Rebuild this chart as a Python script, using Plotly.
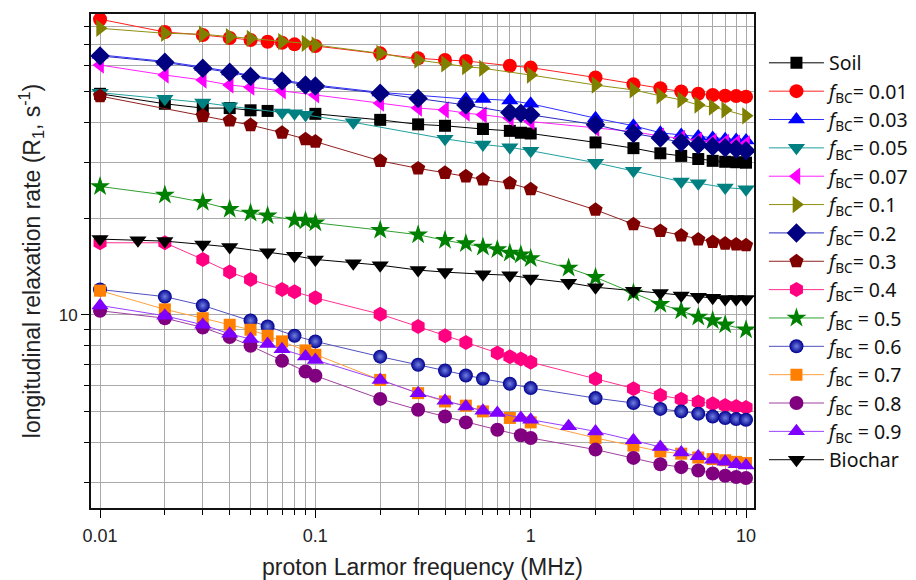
import plotly.graph_objects as go

# ---- data (MHz, s^-1) ----
soil_x = [0.01, 0.02, 0.03, 0.04, 0.05, 0.06, 0.1, 0.2, 0.3, 0.4, 0.6, 0.8, 0.9, 1, 2, 3, 4, 5, 6, 7, 8, 9, 10]
soil_y = [49.1, 45.7, 44.3, 44.3, 43.6, 43.4, 42.5, 40.7, 39.4, 39.0, 38.1, 37.6, 37.1, 36.9, 34.6, 33.2, 32.0, 31.4, 30.7, 30.3, 30.1, 30.0, 29.9]

f001_x = [0.01, 0.02, 0.03, 0.04, 0.05, 0.06, 0.07, 0.08, 0.1, 0.2, 0.3, 0.4, 0.5, 0.8, 1, 2, 3, 4, 5, 6, 7, 8, 9, 10]
f001_y = [84.0, 76.6, 75.0, 73.4, 72.3, 71.4, 70.9, 70.1, 69.3, 65.7, 63.4, 62.6, 62.2, 60.1, 59.3, 55.2, 52.6, 51.1, 49.9, 49.1, 48.7, 48.4, 48.3, 48.1]

f003_x = [0.01, 0.02, 0.03, 0.04, 0.05, 0.07, 0.09, 0.1, 0.2, 0.5, 0.6, 0.8, 1, 2, 3, 4, 5, 6, 7, 8, 9, 10]
f003_y = [65.0, 62.0, 59.5, 57.7, 56.0, 54.2, 52.7, 52.3, 49.6, 47.3, 47.3, 46.8, 45.7, 41.2, 39.0, 37.1, 36.5, 36.1, 35.7, 35.4, 35.2, 35.1]

f005_x = [0.01, 0.02, 0.03, 0.04, 0.07, 0.08, 0.09, 0.15, 0.4, 0.6, 0.8, 1, 2, 3, 5, 6, 8, 10]
f005_y = [49.5, 47.4, 46.1, 44.9, 42.9, 42.7, 42.2, 40.0, 35.5, 34.1, 33.4, 32.6, 29.9, 28.2, 26.1, 25.8, 25.0, 24.7]

f007_x = [0.01, 0.02, 0.03, 0.04, 0.05, 0.07, 0.1, 0.2, 0.3, 0.4, 0.5, 0.6, 0.8, 1, 2, 3, 4, 5, 6, 7, 8, 9, 10]
f007_y = [60.4, 56.2, 54.2, 52.3, 51.5, 50.2, 48.7, 45.9, 44.3, 43.7, 42.7, 42.2, 41.2, 40.2, 38.3, 37.4, 36.2, 35.6, 35.1, 34.8, 34.6, 34.4, 34.2]

f01_x = [0.01, 0.02, 0.03, 0.04, 0.05, 0.07, 0.09, 0.1, 0.2, 0.3, 0.4, 0.5, 0.6, 1, 2, 3, 4, 5, 6, 7, 8, 10]
f01_y = [78.7, 75.9, 75.4, 74.1, 73.2, 71.5, 70.6, 69.8, 65.7, 62.6, 60.9, 59.7, 59.0, 56.2, 52.3, 50.5, 48.4, 47.0, 45.3, 44.6, 43.7, 41.9]

f02_x = [0.01, 0.02, 0.03, 0.04, 0.05, 0.07, 0.09, 0.1, 0.2, 0.3, 0.5, 0.8, 0.9, 1, 2, 3, 4, 5, 6, 7, 8, 9, 10]
f02_y = [64.5, 61.6, 59.0, 57.3, 55.6, 53.8, 52.3, 51.9, 49.3, 47.5, 45.3, 42.9, 42.7, 42.2, 39.3, 36.9, 35.7, 34.6, 34.0, 33.6, 33.3, 33.0, 32.6]

f03_x = [0.01, 0.03, 0.04, 0.05, 0.07, 0.09, 0.1, 0.2, 0.3, 0.4, 0.5, 0.6, 0.8, 1, 2, 3, 4, 5, 6, 7, 8, 9, 10]
f03_y = [48.3, 41.9, 40.5, 39.2, 37.1, 35.4, 34.8, 30.3, 28.7, 27.8, 27.1, 26.5, 25.8, 24.7, 21.3, 19.2, 18.3, 17.7, 17.2, 16.9, 16.7, 16.6, 16.5]

f04_x = [0.01, 0.02, 0.03, 0.04, 0.05, 0.07, 0.08, 0.1, 0.2, 0.3, 0.4, 0.5, 0.7, 0.8, 0.9, 1, 2, 3, 4, 5, 6, 7, 8, 9, 10]
f04_y = [16.8, 16.8, 14.9, 13.6, 12.9, 12.0, 11.8, 11.3, 10.05, 9.2, 8.6, 8.2, 7.6, 7.4, 7.27, 7.11, 6.31, 5.87, 5.60, 5.45, 5.34, 5.27, 5.21, 5.17, 5.13]

f05_x = [0.01, 0.02, 0.03, 0.04, 0.05, 0.06, 0.08, 0.09, 0.1, 0.2, 0.3, 0.4, 0.5, 0.6, 0.7, 0.8, 0.9, 1, 1.5, 2, 3, 4, 5, 6, 7, 8, 10]
f05_y = [25.2, 23.7, 22.5, 21.4, 20.8, 20.4, 19.8, 19.7, 19.4, 18.4, 17.8, 17.1, 16.7, 16.3, 16.0, 15.6, 15.4, 15.0, 14.0, 13.1, 11.7, 10.8, 10.3, 9.84, 9.60, 9.31, 8.98]

f06_x = [0.01, 0.02, 0.03, 0.05, 0.06, 0.08, 0.1, 0.2, 0.3, 0.4, 0.5, 0.6, 0.8, 1, 2, 3, 4, 5, 6, 7, 8, 9, 10]
f06_y = [12.0, 11.4, 10.7, 9.6, 9.2, 8.6, 8.26, 7.4, 6.98, 6.70, 6.46, 6.31, 6.09, 5.90, 5.49, 5.30, 5.08, 4.99, 4.91, 4.81, 4.76, 4.72, 4.70]

f07_x = [0.01, 0.02, 0.03, 0.04, 0.05, 0.06, 0.07, 0.09, 0.1, 0.2, 0.3, 0.4, 0.5, 0.6, 0.8, 1, 2, 3, 4, 5, 6, 7, 8, 9, 10]
f07_y = [11.9, 10.4, 9.76, 9.31, 8.98, 8.6, 8.26, 7.74, 7.50, 6.26, 5.69, 5.36, 5.20, 4.99, 4.76, 4.61, 4.12, 3.90, 3.74, 3.68, 3.58, 3.54, 3.51, 3.47, 3.44]

f08_x = [0.01, 0.02, 0.03, 0.04, 0.05, 0.07, 0.09, 0.1, 0.2, 0.3, 0.4, 0.5, 0.7, 0.9, 1, 2, 3, 4, 5, 6, 7, 8, 9, 10]
f08_y = [10.3, 9.76, 9.13, 8.52, 8.00, 7.18, 6.65, 6.45, 5.46, 5.05, 4.81, 4.61, 4.37, 4.20, 4.12, 3.79, 3.57, 3.41, 3.34, 3.26, 3.19, 3.14, 3.11, 3.09]

f09_x = [0.01, 0.02, 0.03, 0.04, 0.05, 0.06, 0.07, 0.09, 0.1, 0.2, 0.3, 0.4, 0.5, 0.6, 0.7, 0.9, 1, 1.5, 2, 3, 4, 5, 6, 7, 8, 9, 10]
f09_y = [10.7, 9.93, 9.31, 8.72, 8.40, 8.10, 7.81, 7.41, 7.23, 6.26, 5.69, 5.39, 5.17, 5.01, 4.93, 4.76, 4.70, 4.48, 4.32, 4.05, 3.86, 3.71, 3.61, 3.52, 3.47, 3.41, 3.38]

bio_x = [0.01, 0.015, 0.02, 0.03, 0.04, 0.06, 0.08, 0.1, 0.15, 0.2, 0.3, 0.4, 0.6, 0.8, 1, 1.5, 2, 3, 4, 5, 6, 7, 8, 9, 10]
bio_y = [17.25, 17.1, 17.0, 16.6, 16.3, 15.7, 15.3, 14.9, 14.5, 14.3, 13.8, 13.6, 13.4, 13.3, 13.0, 12.6, 12.2, 11.9, 11.7, 11.5, 11.4, 11.3, 11.2, 11.2, 11.2]

names = ["Soil",
         "<i>f</i><sub>BC</sub>= 0.01", "<i>f</i><sub>BC</sub>= 0.03", "<i>f</i><sub>BC</sub>= 0.05",
         "<i>f</i><sub>BC</sub>= 0.07", "<i>f</i><sub>BC</sub>= 0.1", "<i>f</i><sub>BC</sub>= 0.2",
         "<i>f</i><sub>BC</sub>= 0.3", "<i>f</i><sub>BC</sub>= 0.4", "<i>f</i><sub>BC</sub> = 0.5",
         "<i>f</i><sub>BC</sub> = 0.6", "<i>f</i><sub>BC</sub> = 0.7", "<i>f</i><sub>BC</sub> = 0.8",
         "<i>f</i><sub>BC</sub> = 0.9", "Biochar"]

series = [
    (soil_x, soil_y, "square", "#000000", "#000000", 12),
    (f001_x, f001_y, "circle", "#ff0000", "#ff2020", 14),
    (f003_x, f003_y, "triangle-up", "#0000ff", "#3030ff", 15),
    (f005_x, f005_y, "triangle-down", "#008080", "#20a0a0", 15),
    (f007_x, f007_y, "triangle-left", "#ff00ff", "#ff20ff", 15),
    (f01_x, f01_y, "triangle-right", "#808000", "#909010", 15),
    (f02_x, f02_y, "diamond", "#000080", "#2828c0", 15),
    (f03_x, f03_y, "pentagon", "#800000", "#902020", 15),
    (f04_x, f04_y, "hexagon", "#ff0080", "#ff3090", 15),
    (f05_x, f05_y, "star", "#008000", "#30a030", 15),
    (f06_x, f06_y, "circle", "#000090", "#5050c0", 14),
    (f07_x, f07_y, "square", "#ff8000", "#ffa040", 12),
    (f08_x, f08_y, "circle", "#800080", "#a040a0", 14),
    (f09_x, f09_y, "triangle-up", "#8000ff", "#9a40ff", 15),
    (bio_x, bio_y, "triangle-down", "#000000", "#000000", 15),
]

fig = go.Figure()
for i, (xs, ys, sym, mc, lc, sz) in enumerate(series):
    marker = dict(symbol=sym, color=mc, size=sz, line=dict(width=0))
    if i == 10:
        marker["gradient"] = dict(type="radial", color="#7080e0")
    fig.add_trace(go.Scatter(x=xs, y=ys, mode="lines+markers", name=names[i],
                             marker=marker, line=dict(color=lc, width=1)))

grid_c = "#a9a9a9"
x_minor = [m * 10 ** e for e in (-2, -1, 0) for m in range(2, 10)]
y_minor = [3, 4, 5, 6, 7, 8, 9, 20, 30, 40, 50, 60, 70, 80]

fig.update_layout(
    width=916, height=580,
    margin=dict(l=91, r=162, t=14, b=72, autoexpand=False),
    paper_bgcolor="white", plot_bgcolor="white",
    font=dict(family="Liberation Sans, Arial", color="#222222"),
    xaxis=dict(type="log", range=[-2.042, 1.037], automargin=False,
               tickmode="array", tickvals=[0.01, 0.1, 1, 10], ticktext=["0.01", "0.1", "1", "10"],
               ticks="outside", ticklen=8, tickwidth=1.2, tickcolor="#000",
               ticklabelstandoff=2,
               showgrid=True, gridcolor=grid_c, gridwidth=1,
               minor=dict(tickmode="array", tickvals=x_minor, ticks="outside", ticklen=5,
                          tickcolor="#000", showgrid=True, gridcolor=grid_c, gridwidth=1),
               showline=True, linecolor="#111", linewidth=2, mirror=True,
               tickfont=dict(size=18), zeroline=False,
               title=dict(text="proton Larmor frequency (MHz)", font=dict(size=23), standoff=16)),
    yaxis=dict(type="log", range=[0.396, 1.9406], automargin=False,
               tickmode="array", tickvals=[10], ticktext=["10"],
               ticks="outside", ticklen=8, tickwidth=1.2, tickcolor="#000",
               showgrid=True, gridcolor=grid_c, gridwidth=1,
               minor=dict(tickmode="array", tickvals=y_minor, ticks="outside", ticklen=5,
                          tickcolor="#000", showgrid=True, gridcolor=grid_c, gridwidth=1),
               showline=True, linecolor="#111", linewidth=2, mirror=True,
               tickfont=dict(size=17), zeroline=False,
               title=dict(text="longitudinal relaxation rate (R<sub>1</sub>, s<sup>-1</sup>)",
                          font=dict(size=23), standoff=12)),
    legend=dict(x=1.015, y=0.94, xanchor="left", yanchor="top",
                font=dict(family="Noto Sans, Open Sans", size=19.5, color="#111"),
                bgcolor="rgba(0,0,0,0)", itemwidth=55, tracegroupgap=0),
    showlegend=True,
)

fig.write_html("out.html")
